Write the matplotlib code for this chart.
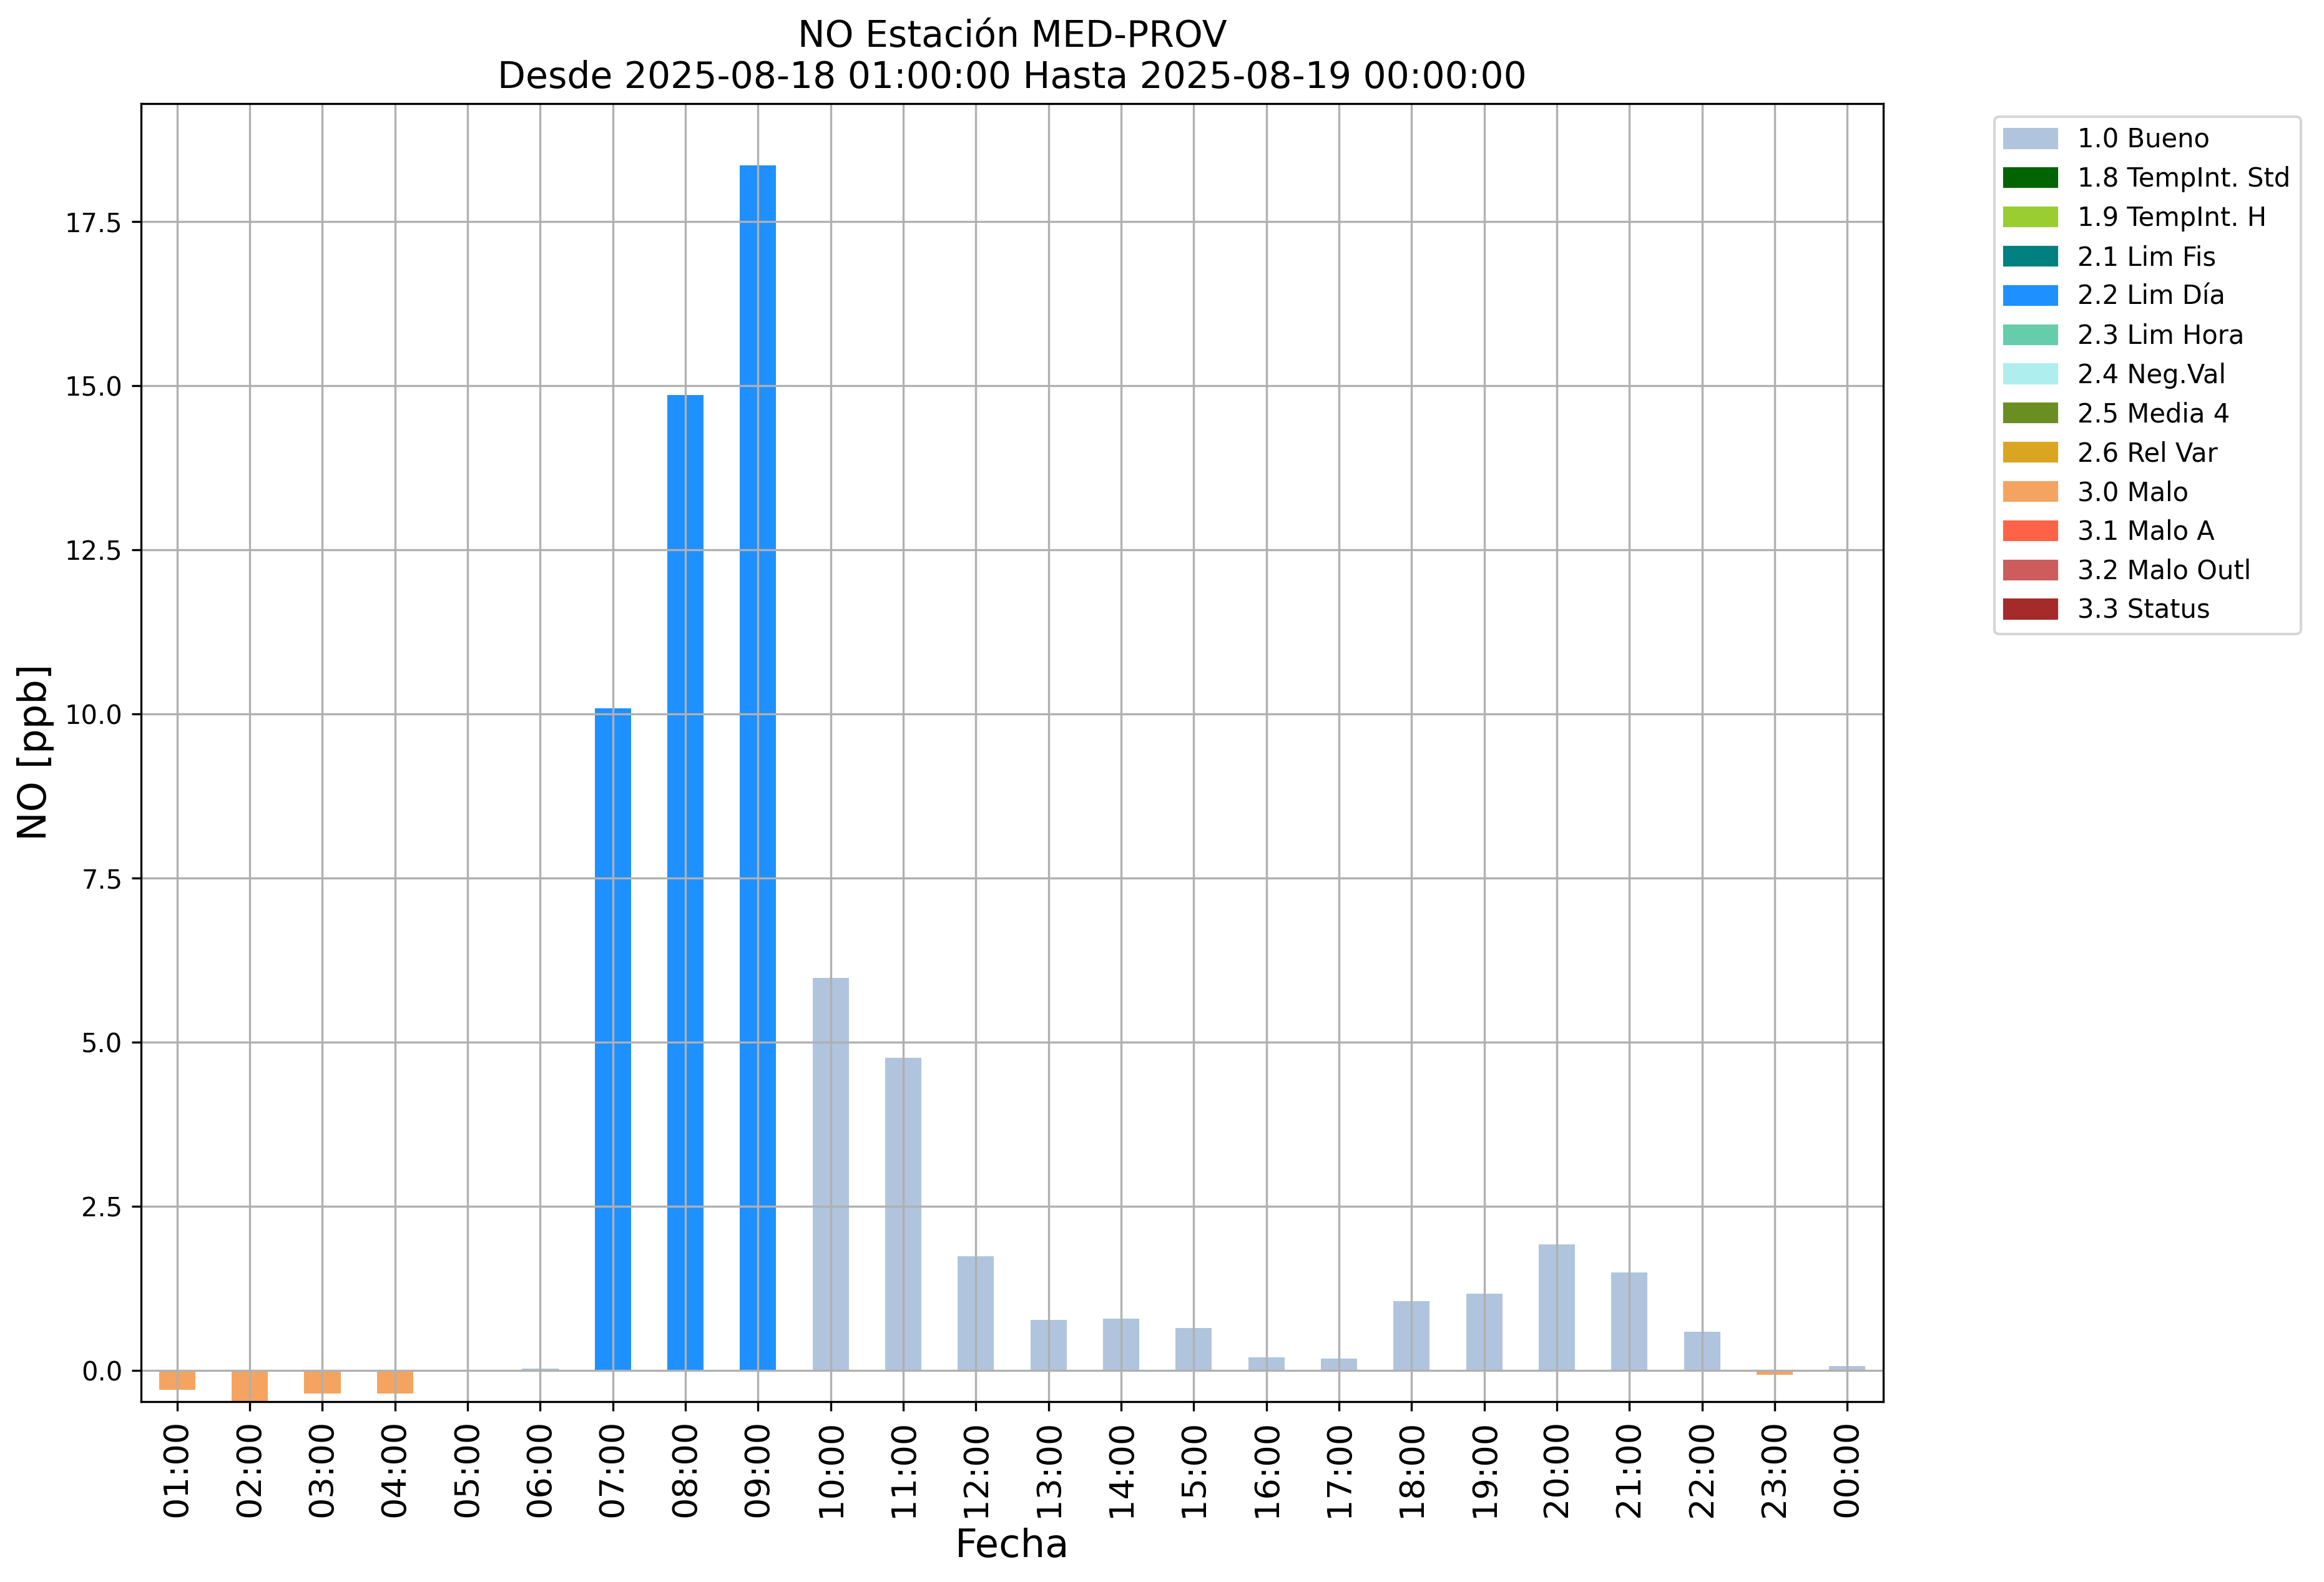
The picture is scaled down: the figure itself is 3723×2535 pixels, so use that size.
import matplotlib
matplotlib.use('Agg')
import matplotlib.pyplot as plt
from matplotlib.patches import Patch
import numpy as np

horas = ['01:00', '02:00', '03:00', '04:00', '05:00', '06:00', '07:00', '08:00',
         '09:00', '10:00', '11:00', '12:00', '13:00', '14:00', '15:00', '16:00',
         '17:00', '18:00', '19:00', '20:00', '21:00', '22:00', '23:00', '00:00']
valores = [-0.29, -0.50, -0.35, -0.35, np.nan, 0.03, 10.09, 14.86,
           18.36, 5.98, 4.76, 1.74, 0.77, 0.79, 0.65, 0.20,
           0.18, 1.06, 1.17, 1.92, 1.49, 0.59, -0.07, 0.07]
flags = ['3.0', '3.0', '3.0', '3.0', '1.0', '1.0', '2.2', '2.2',
         '2.2', '1.0', '1.0', '1.0', '1.0', '1.0', '1.0', '1.0',
         '1.0', '1.0', '1.0', '1.0', '1.0', '1.0', '3.0', '1.0']

flag_codes = ['1.0', '1.8', '1.9', '2.1', '2.2', '2.3', '2.4', '2.5', '2.6', '3.0', '3.1', '3.2', '3.3']
flag_names = ['Bueno', 'TempInt. Std', 'TempInt. H', 'Lim Fis', 'Lim Día', 'Lim Hora',
              'Neg.Val', 'Media 4', 'Rel Var', 'Malo', 'Malo A', 'Malo Outl', 'Status']
flag_colors = ['lightsteelblue', 'darkgreen', 'yellowgreen', 'teal', 'dodgerblue',
               'mediumaquamarine', 'paleturquoise', 'olivedrab', 'goldenrod',
               'sandybrown', 'tomato', 'indianred', 'brown']
color_map = dict(zip(flag_codes, flag_colors))

fig, ax = plt.subplots(figsize=(12.41, 8.45), dpi=300)
plt.subplots_adjust(left=0.0606, right=0.8105, top=0.9345, bottom=0.1142)

x = np.arange(len(horas))
ax.bar(x, valores, width=0.5, color=[color_map[f] for f in flags])

ax.set_xticks(x)
ax.set_xticklabels(horas, rotation=90, fontsize=13)
ax.set_xlim(-0.5, len(horas) - 0.5)
ax.set_ylim(-0.47, 19.3)
ax.tick_params(axis='y', labelsize=10)
ax.grid(True)

ax.set_xlabel('Fecha', fontsize=15)
ax.set_ylabel('NO [ppb]', fontsize=15)
ax.set_title('NO Estación MED-PROV\nDesde 2025-08-18 01:00:00 Hasta 2025-08-19 00:00:00', fontsize=14)

# leyenda con todos los flags, aunque no aparezcan
handles = [Patch(color=c, label=f'{code} {name}') for code, name, c in zip(flag_codes, flag_names, flag_colors)]
ax.legend(handles=handles, bbox_to_anchor=(1.056, 1), loc='upper left', fontsize=10)

plt.savefig('out.png', dpi=300)
